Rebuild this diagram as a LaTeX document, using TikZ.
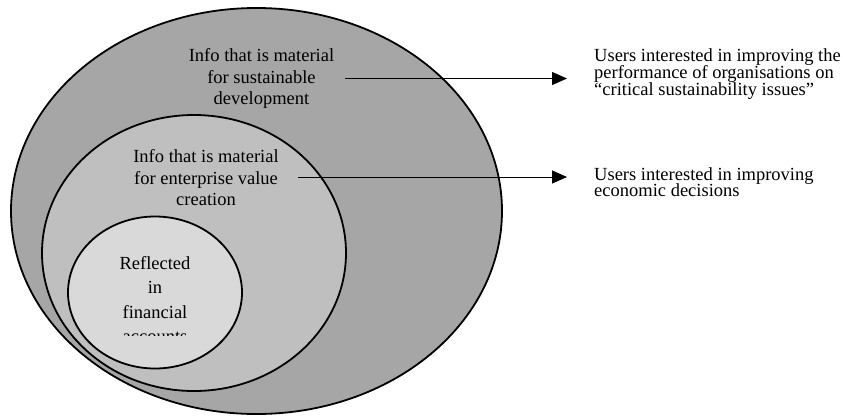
\documentclass[tikz,border=0pt]{standalone}
\usepackage{fontspec}
\setmainfont{Liberation Serif}
\usetikzlibrary{arrows.meta}
\definecolor{outerfill}{HTML}{A6A6A6}
\definecolor{middlefill}{HTML}{BFBFBF}
\definecolor{innerfill}{HTML}{D9D9D9}
\newcommand\exactlines{\lineskiplimit=-20pt\relax}
\begin{document}
\begin{tikzpicture}[x=1pt,y=-1pt,
  ring/.style={draw=black,line width=1.8pt},
  label/.style={inner sep=0pt,align=center,anchor=base,
    font=\fontsize{18.5}{21.5}\selectfont\exactlines},
  users/.style={inner sep=0pt,align=left,anchor=base west,
    font=\fontsize{18.5}{16.6}\selectfont\exactlines},
  link/.style={line width=1pt,-{Triangle[length=15pt,width=13pt]}}]
  \useasboundingbox (0,0) rectangle (843,416);
  % nested sets of information
  \path[ring,fill=outerfill] (256.5,211) ellipse [x radius=245.5,y radius=203];
  \path[ring,fill=middlefill] (194,253) ellipse [x radius=152,y radius=138];
  \path[ring,fill=innerfill] (155,292.5) ellipse [x radius=87,y radius=76];
  % labels inside the sets (anchored on the baseline of their last line)
  \node[label] (sd) at (261.5,104.7) {Info that is material\\for sustainable\\development};
  \node[label] (ev) at (206,205.5) {Info that is material\\for enterprise value\\creation};
  \begin{scope}
    \clip (0,0) rectangle (843,335.3);
    \node[label,font=\fontsize{18.5}{24.5}\selectfont\exactlines] (fa) at (155,342.5)
      {Reflected\\in\\financial\\accounts};
  \end{scope}
  % user groups
  \node[users] (u1) at (594,95) {Users interested in improving the\\performance of organisations on\\“critical sustainability issues”};
  \node[users] (u2) at (594,196.7) {Users interested in improving\\economic decisions};
  % connectors
  \coordinate (s1) at (345,78.5);
  \coordinate (t1) at (567,78.5);
  \coordinate (s2) at (298,177);
  \coordinate (t2) at (567,177);
  \draw[link] (s1) -- (t1);
  \draw[link] (s2) -- (t2);
\end{tikzpicture}
\end{document}
